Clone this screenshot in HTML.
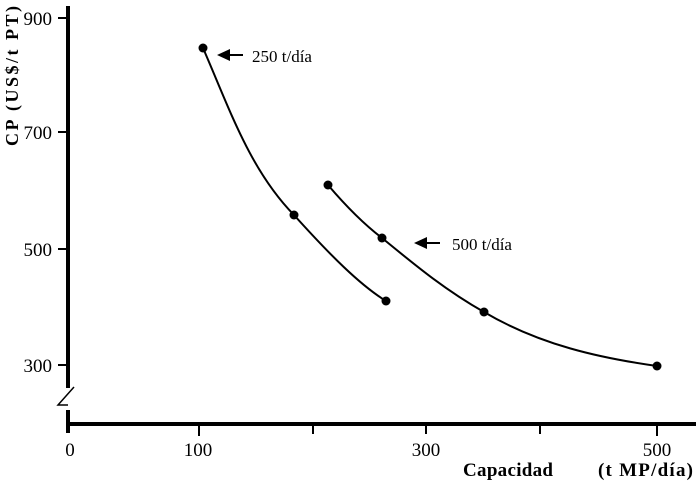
<!DOCTYPE html>
<html><head><style>body{margin:0;background:#fff}svg{display:block}text{font-family:"Liberation Serif",serif;fill:#000}</style></head><body>
<svg width="700" height="484" viewBox="0 0 700 484">
<g stroke="#000" fill="none">
<line x1="68" y1="6" x2="68" y2="388" stroke-width="4"/>
<g stroke-width="2"><line x1="58" y1="18" x2="66" y2="18"/><line x1="58" y1="132" x2="66" y2="132"/><line x1="58" y1="249" x2="66" y2="249"/><line x1="58" y1="365" x2="66" y2="365"/></g>
<polyline points="74,387 58,405 68,405" stroke-width="1.5"/>
<line x1="68" y1="410" x2="68" y2="433" stroke-width="4"/>
<line x1="66" y1="424" x2="696" y2="424" stroke-width="4"/>
<g stroke-width="2"><line x1="199" y1="426" x2="199" y2="436"/><line x1="313" y1="426" x2="313" y2="434"/><line x1="426" y1="426" x2="426" y2="434"/><line x1="540" y1="426" x2="540" y2="434"/><line x1="657" y1="426" x2="657" y2="436"/></g>
<path d="M203,48 C230,110 250,170 294,215 C330,255 360,285 386,301" stroke-width="2"/>
<path d="M328,185 C345,205 365,225 382,238 C415,265 445,290 484,312 C540,345 600,358 657,366" stroke-width="2"/>
<line x1="228" y1="55" x2="243" y2="55" stroke-width="2"/>
<line x1="425" y1="243" x2="440" y2="243" stroke-width="2"/>
</g>
<g fill="#000"><circle cx="203" cy="48" r="4.5"/><circle cx="294" cy="215" r="4.5"/><circle cx="386" cy="301" r="4.5"/><circle cx="328" cy="185" r="4.5"/><circle cx="382" cy="238" r="4.5"/><circle cx="484" cy="312" r="4.5"/><circle cx="657" cy="366" r="4.5"/>
<polygon points="217,55 230,49 230,61"/><polygon points="414,243 427,237 427,249"/></g>
<g font-size="19" text-anchor="end"><text x="52" y="25">900</text><text x="52" y="139">700</text><text x="52" y="256">500</text><text x="52" y="372">300</text></g>
<g font-size="19" text-anchor="middle"><text x="70" y="456">0</text><text x="198" y="456">100</text><text x="426" y="456">300</text><text x="657" y="456">500</text></g>
<text x="252" y="62" font-size="17">250 t/día</text>
<text x="452" y="250" font-size="17">500 t/día</text>
<text x="463" y="476" font-size="19" font-weight="bold" textLength="90">Capacidad</text>
<text x="598" y="476" font-size="19" font-weight="bold" textLength="95">(t MP/día)</text>
<text transform="translate(18,146) rotate(-90)" font-size="18" font-weight="bold" textLength="140">CP  (US$/t PT)</text>
</svg>
</body></html>
